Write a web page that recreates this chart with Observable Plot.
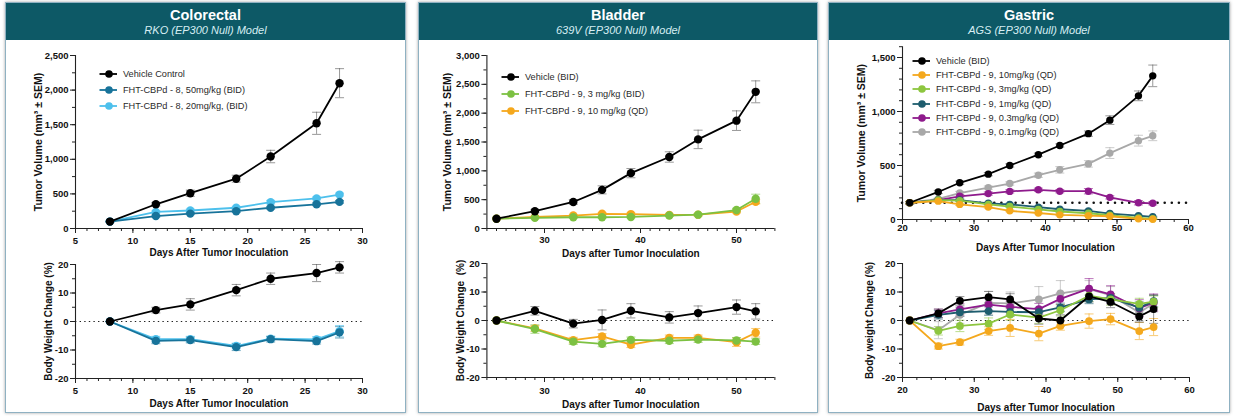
<!DOCTYPE html>
<html><head><meta charset="utf-8">
<script src="https://cdn.jsdelivr.net/npm/d3@7"></script>
<script src="https://cdn.jsdelivr.net/npm/@observablehq/plot@0.6"></script>
<style>
html,body{margin:0;padding:0}
body{width:1234px;height:416px;background:#fff;position:relative;overflow:hidden;font-family:"Liberation Sans",Arial,sans-serif}
.panel{position:absolute;top:2px;height:411px;border:1px solid #8fb1c2;box-sizing:border-box;background:#fff;box-shadow:0 0 3px rgba(0,0,0,.35)}
.hdr{position:absolute;left:0;right:0;top:0;height:37px;background:#0d5966;text-align:center;color:#fff}
.hdr .t{position:absolute;left:0;right:0;top:4px;font-size:14.5px;font-weight:bold;line-height:16px}
.hdr .s{position:absolute;left:0;right:0;top:21px;font-size:11px;font-style:italic;line-height:13px;color:#d6eef3}
.chart{position:absolute}
.legend{position:absolute;font-size:9.2px;color:#2a2a2a}
.legend .row{position:absolute;left:0;white-space:nowrap;display:flex;align-items:center;height:12px}
.legend svg{display:block;margin-right:5px}
</style>
</head><body>
<div id="root"></div>
<script>
// ---------------- DATA ----------------
// Colorectal (RKO)
const crDays = [8, 12, 15, 19, 22, 26, 28];
const crLabels = ["Vehicle Control", "FHT-CBPd - 8, 50mg/kg (BID)", "FHT-CBPd - 8, 20mg/kg, (BID)"];
const crColors = ["#000000", "#17739a", "#4dc0ec"];
const crTvVehicle = [100, 350, 510, 720, 1040, 1520, 2100];
const crTvVehicleSem = [10, 25, 45, 50, 90, 160, 210];
const crTv50 = [100, 180, 215, 250, 300, 350, 385];
const crTv50Sem = [5, 15, 15, 20, 20, 20, 20];
const crTv20 = [100, 240, 260, 300, 380, 435, 490];
const crTv20Sem = [5, 15, 20, 20, 25, 20, 20];
const crBwVehicle = [0, 4, 6, 11, 15, 17, 19];
const crBwVehicleSem = [0, 1, 2, 2, 2, 3, 2];
const crBw50 = [0, -6.8, -6.5, -9, -6.2, -6.9, -3.8];
const crBw50Sem = [0, 1, 1, 1.2, 1, 1, 2];
const crBw20 = [0, -6.2, -6.2, -8.6, -6, -6.3, -3.4];
const crBw20Sem = [0, 1, 1, 1, 0.8, 1, 2];

// Bladder (639V)
const blDays = [25, 29, 33, 36, 39, 43, 46, 50, 52];
const blLabels = ["Vehicle (BID)", "FHT-CBPd - 9, 3 mg/kg (BID)", "FHT-CBPd - 9, 10 mg/kg (QD)"];
const blColors = ["#000000", "#7cc142", "#f5a81c"];
const blTvVehicle = [170, 300, 460, 670, 960, 1240, 1545, 1870, 2370];
const blTvVehicleSem = [15, 25, 40, 70, 80, 90, 160, 170, 190];
const blTv3 = [170, 185, 195, 195, 200, 225, 240, 320, 515];
const blTv3Sem = [10, 15, 15, 15, 15, 15, 20, 30, 80];
const blTv10 = [170, 200, 225, 255, 250, 235, 240, 295, 465];
const blTv10Sem = [10, 15, 15, 20, 20, 15, 20, 25, 40];
const blBwVehicle = [0, 3.4, -1.1, 0.2, 3.4, 1.1, 2.6, 4.7, 3.2];
const blBwVehicleSem = [0, 1.5, 1.5, 3.5, 2.5, 2, 2.5, 2.5, 2.7];
const blBw3 = [0, -3.0, -7.4, -8.2, -6.8, -7.1, -6.7, -7.0, -7.4];
const blBw3Sem = [0, 1.5, 1, 1, 1, 1, 1, 1, 1];
const blBw10 = [0, -2.8, -6.9, -5.6, -8.5, -6.1, -6.1, -7.6, -4.3];
const blBw10Sem = [0, 1, 1, 1, 1, 1, 1, 1.5, 1.5];

// Gastric (AGS)
const gaDays = [21, 25, 28, 32, 35, 39, 42, 46, 49, 53, 55];
const gaLabels = ["Vehicle (BID)", "FHT-CBPd - 9, 10mg/kg (QD)", "FHT-CBPd - 9, 3mg/kg (QD)", "FHT-CBPd - 9, 1mg/kg (QD)", "FHT-CBPd - 9, 0.3mg/kg (QD)", "FHT-CBPd - 9, 0.1mg/kg (QD)"];
const gaColors = ["#000000", "#f4a81d", "#8dc63f", "#1e5d6e", "#8e1a8c", "#a8a8a8"];
const gaTvVehicle = [155, 255, 340, 420, 500, 600, 685, 795, 920, 1145, 1330];
const gaTvVehicleSem = [10, 15, 15, 15, 15, 15, 15, 25, 40, 45, 100];
const gaTv10 = [155, 170, 140, 115, 80, 60, 43, 35, 30, 6, 2];
const gaTv10Sem = [10, 10, 10, 10, 8, 8, 8, 6, 6, 4, 3];
const gaTv3 = [155, 180, 175, 140, 120, 93, 74, 58, 40, 15, 8];
const gaTv3Sem = [10, 10, 10, 8, 8, 8, 8, 6, 6, 4, 3];
const gaTv1 = [155, 180, 180, 150, 140, 115, 95, 80, 55, 35, 25];
const gaTv1Sem = [10, 10, 10, 10, 10, 10, 8, 8, 8, 6, 5];
const gaTv03 = [155, 180, 215, 240, 260, 275, 262, 262, 205, 155, 150];
const gaTv03Sem = [10, 10, 15, 15, 15, 15, 15, 25, 15, 20, 15];
const gaTv01 = [155, 190, 245, 295, 333, 410, 460, 515, 615, 730, 775];
const gaTv01Sem = [10, 10, 15, 15, 15, 20, 30, 30, 50, 50, 45];
const gaStartVolume = [155];
const gaBwVehicle = [0, 2.5, 6.9, 8.2, 7.4, 0.7, 0, 8.5, 6.5, 1.4, 4.0];
const gaBwVehicleSem = [0, 1.5, 1.5, 2, 2, 2, 2, 2, 2, 2, 5];
const gaBw10 = [0, -9.0, -7.6, -3.7, -2.6, -4.6, -1.9, -0.2, 0.5, -3.7, -2.3];
const gaBw10Sem = [0, 1, 1, 1.5, 3, 2.5, 1.5, 2.5, 2, 3, 3];
const gaBw3 = [0, -3.6, -1.9, -1.1, 2.1, 1.0, 3.6, 8.7, 7.4, 5.8, 6.6];
const gaBw3Sem = [0, 1.5, 2, 2, 2, 2, 2, 2, 2, 2, 2];
const gaBw1 = [0, 2.0, 2.9, 3.3, 3.0, 2.9, 4.6, 7.4, 7.9, 4.5, 6.8];
const gaBw1Sem = [0, 1.5, 1.5, 1.5, 1.5, 1.5, 1.5, 1.5, 1.5, 2, 2];
const gaBw03 = [0, 2.5, 3.9, 5.6, 4.8, 4.0, 7.6, 11.2, 9.2, 4.3, 6.3];
const gaBw03Sem = [0, 1.5, 2, 2, 2, 2, 2, 3.5, 3, 3, 3];
const gaBw01 = [0, -3.4, 2.0, 6.2, 6.0, 7.4, 9.5, 11.0, 8.9, 2.8, 6.0];
const gaBw01Sem = [0, 3, 3, 4, 4, 4.5, 4.5, 3, 3, 3, 3];

// Axis ticks
const crXMajor = [5, 10, 15, 20, 25, 30];
const blXMajor = [30, 40, 50];
const gaXMajor = [20, 30, 40, 50, 60];
const tvTicksCR = [0, 500, 1000, 1500, 2000, 2500];
const tvTicksBL = [0, 500, 1000, 1500, 2000, 2500, 3000];
const tvTicksGA = [0, 500, 1000, 1500];
const bwTicks = [-20, -10, 0, 10, 20];

// ---------------- DRAWING ----------------
const cap = {draw(ctx, size) { const r = Math.sqrt(size / Math.PI); ctx.moveTo(-r, 0); ctx.lineTo(r, 0); }};
const fmt = d => d.toLocaleString("en-US").replace("\u2212", "-");

function mkSeries(days, vals, sems, colors) {
  return vals.map((v, k) => ({color: colors[k], rows: days.map((d, i) => ({day: d, v: v[i], e: sems[k][i]}))}));
}

function chart(o) {
  const marks = [];
  const [x0, x1] = o.xDomain, [y0, y1] = o.yDomain;
  const xMinor = d3.range(Math.ceil(x0 / o.xMinorStep) * o.xMinorStep, x1 + 1e-9, o.xMinorStep);
  const yMinor = d3.range(y0, y1 + 1e-9, o.yMinorStep);
  marks.push(Plot.ruleX([x0], {y1: y0, y2: y1, stroke: "#222", strokeWidth: 1.1}));
  marks.push(Plot.ruleY([y0], {stroke: "#222", strokeWidth: 1.1}));
  marks.push(Plot.axisX({ticks: xMinor, tickSize: 3, tickFormat: () => "", label: null, stroke: "#222"}));
  marks.push(Plot.axisX({ticks: o.xMajor, tickSize: 5, tickPadding: o.xPad, tickFormat: fmt, label: null, stroke: "#222", fontSize: 9.5, fontWeight: "bold", fill: "#111"}));
  marks.push(Plot.axisX({ticks: [], tickSize: 0, label: o.xLabel, labelAnchor: "center", labelOffset: o.xLabelOffset, labelArrow: false, fontSize: 10, fontWeight: "bold", fill: "#111"}));
  marks.push(Plot.axisY({ticks: yMinor, tickSize: 3, tickFormat: () => "", label: null, stroke: "#222"}));
  marks.push(Plot.axisY({ticks: o.yMajor, tickSize: 5, tickPadding: 2, tickFormat: fmt, label: null, stroke: "#222", fontSize: 9.5, fontWeight: "bold", fill: "#111"}));
  marks.push(Plot.axisY({ticks: [], tickSize: 0, label: o.yLabel, labelAnchor: "center", labelOffset: o.yLabelOffset, labelArrow: false, fontSize: o.yLabelSize || 10, fontWeight: "bold", fill: "#111"}));
  if (o.zeroLine) marks.push(Plot.ruleY([0], {stroke: "#222", strokeWidth: 1.2, strokeDasharray: "1.4,3.2"}));
  if (o.refLine) marks.push(Plot.ruleY(o.refLine, {stroke: "#111", strokeWidth: 2.6, strokeDasharray: "0,7.1", strokeLinecap: "round"}));
  const ser = o.series.slice().reverse();
  for (const s of ser) {
    const ec = s.color === "#000000" ? "#555" : s.color;
    marks.push(Plot.ruleX(s.rows, {x: "day", y1: r => r.v - r.e, y2: r => r.v + r.e, stroke: ec, strokeOpacity: 0.6, strokeWidth: 1}));
    marks.push(Plot.dot(s.rows, {x: "day", y: r => r.v + r.e, symbol: cap, r: 4.5, stroke: ec, strokeOpacity: 0.6, strokeWidth: 1}));
    marks.push(Plot.dot(s.rows, {x: "day", y: r => r.v - r.e, symbol: cap, r: 4.5, stroke: ec, strokeOpacity: 0.6, strokeWidth: 1}));
  }
  for (const s of ser) {
    marks.push(Plot.line(s.rows, {x: "day", y: "v", stroke: s.color, strokeWidth: 1.8}));
    marks.push(Plot.dot(s.rows, {x: "day", y: "v", fill: s.color, r: o.r || 4.2}));
  }
  const svg = Plot.plot({
    width: o.w, height: o.h,
    marginLeft: o.ml, marginRight: o.mr, marginTop: o.mt, marginBottom: o.mb,
    x: {domain: o.xDomain, axis: null},
    y: {domain: o.yDomain, axis: null},
    style: {background: "transparent", overflow: "visible", fontFamily: "'Liberation Sans', Arial, sans-serif", color: "#111"},
    marks
  });
  svg.classList.add("chart");
  svg.style.left = o.left + "px";
  svg.style.top = o.top + "px";
  svg.style.position = "absolute";
  return svg;
}

function legend(labels, colors, left, top, step) {
  const div = document.createElement("div");
  div.className = "legend";
  div.style.left = left + "px"; div.style.top = top + "px";
  labels.forEach((lab, i) => {
    const row = document.createElement("div");
    row.className = "row";
    row.style.top = (i * step - 6) + "px";
    row.innerHTML = `<svg width="19" height="10"><line x1="0.5" x2="18" y1="5" y2="5" stroke="${colors[i]}" stroke-width="1.8"/><circle cx="10" cy="5" r="3.8" fill="${colors[i]}"/></svg><span>${lab}</span>`;
    div.appendChild(row);
  });
  return div;
}

function panel(left, width, title, sub) {
  const p = document.createElement("div");
  p.className = "panel";
  p.style.left = left + "px"; p.style.width = width + "px";
  p.innerHTML = `<div class="hdr"><div class="t">${title}</div><div class="s">${sub}</div></div>`;
  return p;
}

const body = document.body;
body.appendChild(panel(5, 401, "Colorectal", "RKO (EP300 Null) Model"));
body.appendChild(panel(418, 400, "Bladder", "639V (EP300 Null) Model"));
body.appendChild(panel(828, 402, "Gastric", "AGS (EP300 Null) Model"));

// Colorectal
body.appendChild(chart({
  left: 6, top: 42, w: 398, h: 218, ml: 69, mr: 42, mt: 13, mb: 32,
  xDomain: [5, 30], xMajor: crXMajor, xMinorStep: 1, xPad: 3.5,
  yDomain: [0, 2500], yMajor: tvTicksCR, yMinorStep: 250,
  xLabel: "Days After Tumor Inoculation", xLabelOffset: 27,
  yLabel: "Tumor Volume (mm³ ± SEM)", yLabelOffset: 41, yLabelSize: 10.5,
  series: mkSeries(crDays, [crTvVehicle, crTv50, crTv20], [crTvVehicleSem, crTv50Sem, crTv20Sem], crColors)
}));
body.appendChild(chart({
  left: 6, top: 250, w: 398, h: 163, ml: 69, mr: 42, mt: 14, mb: 35,
  xDomain: [5, 30], xMajor: crXMajor, xMinorStep: 1, xPad: 4,
  yDomain: [-20, 20], yMajor: bwTicks, yMinorStep: 5, zeroLine: true,
  xLabel: "Days After Tumor Inoculation", xLabelOffset: 28,
  yLabel: "Body Weight Change (%)", yLabelOffset: 31,
  series: mkSeries(crDays, [crBwVehicle, crBw50, crBw20], [crBwVehicleSem, crBw50Sem, crBw20Sem], crColors)
}));
body.appendChild(legend(crLabels, crColors, 99, 74, 16));

// Bladder
body.appendChild(chart({
  left: 420, top: 42, w: 396, h: 218, ml: 66.4, mr: 41.6, mt: 13, mb: 32,
  xDomain: [24, 54], xMajor: blXMajor, xMinorStep: 1, xPad: 3,
  yDomain: [0, 3000], yMajor: tvTicksBL, yMinorStep: 250,
  xLabel: "Days after Tumor Inoculation", xLabelOffset: 28,
  yLabel: "Tumor Volume (mm³ ± SEM)", yLabelOffset: 43.5, yLabelSize: 10.5,
  series: mkSeries(blDays, [blTvVehicle, blTv3, blTv10], [blTvVehicleSem, blTv3Sem, blTv10Sem], blColors)
}));
body.appendChild(chart({
  left: 420, top: 250, w: 396, h: 163, ml: 66.4, mr: 41.6, mt: 13, mb: 36,
  xDomain: [24, 54], xMajor: blXMajor, xMinorStep: 1, xPad: 4.5,
  yDomain: [-20, 20], yMajor: bwTicks, yMinorStep: 5, zeroLine: true,
  xLabel: "Days after Tumor Inoculation", xLabelOffset: 30.5,
  yLabel: "Body Weight Change  (%)", yLabelOffset: 30.5,
  series: mkSeries(blDays, [blBwVehicle, blBw3, blBw10], [blBwVehicleSem, blBw3Sem, blBw10Sem], blColors)
}));
body.appendChild(legend(blLabels, blColors, 501, 77, 17));

// Gastric
body.appendChild(chart({
  left: 830, top: 42, w: 398, h: 218, ml: 72, mr: 40, mt: 4.2, mb: 41, r: 3.7,
  xDomain: [20, 60], xMajor: gaXMajor, xMinorStep: 2, xPad: 0,
  yDomain: [0, 1600], yMajor: tvTicksGA, yMinorStep: 100, refLine: gaStartVolume,
  xLabel: "Days After Tumor Inoculation", xLabelOffset: 31.5,
  yLabel: "Tumor Volume (mm³ ± SEM)", yLabelOffset: 44.5, yLabelSize: 10.5,
  series: mkSeries(gaDays, [gaTvVehicle, gaTv10, gaTv3, gaTv1, gaTv03, gaTv01], [gaTvVehicleSem, gaTv10Sem, gaTv3Sem, gaTv1Sem, gaTv03Sem, gaTv01Sem], gaColors)
}));
body.appendChild(chart({
  left: 830, top: 250, w: 398, h: 163, ml: 72, mr: 39, mt: 13, mb: 36, r: 3.9,
  xDomain: [20, 60], xMajor: gaXMajor, xMinorStep: 2, xPad: 4,
  yDomain: [-20, 20], yMajor: bwTicks, yMinorStep: 5, zeroLine: true,
  xLabel: "Days after Tumor Inoculation", xLabelOffset: 33.5,
  yLabel: "Body weight Change (%)", yLabelOffset: 36.5,
  series: mkSeries(gaDays, [gaBwVehicle, gaBw10, gaBw3, gaBw1, gaBw03, gaBw01], [gaBwVehicleSem, gaBw10Sem, gaBw3Sem, gaBw1Sem, gaBw03Sem, gaBw01Sem], gaColors)
}));
body.appendChild(legend(gaLabels, gaColors, 912, 61, 14.2));
</script>
</body></html>
